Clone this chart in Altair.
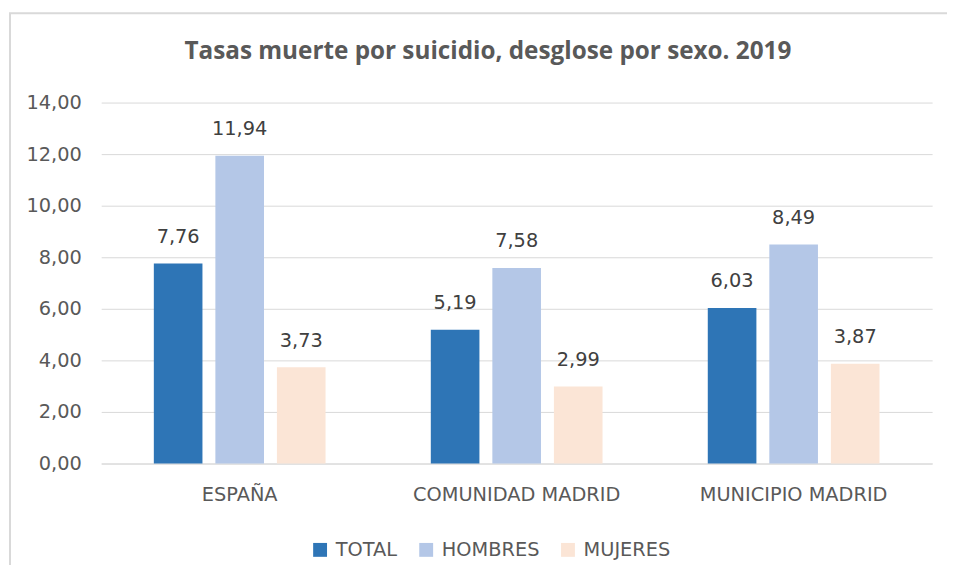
import altair as alt
import pandas as pd

regions = ["ESPAÑA", "COMUNIDAD MADRID", "MUNICIPIO MADRID"]
series = ["TOTAL", "HOMBRES", "MUJERES"]
total = [7.76, 5.19, 6.03]
hombres = [11.94, 7.58, 8.49]
mujeres = [3.73, 2.99, 3.87]
colors = ["#2E75B6", "#B4C7E7", "#FBE5D6"]

rows = []
for i, r in enumerate(regions):
    for s, vals in zip(series, [total, hombres, mujeres]):
        v = vals[i]
        rows.append({"region": r, "serie": s, "valor": v,
                     "etiqueta": f"{v:.2f}".replace(".", ",")})
df = pd.DataFrame(rows)

FONT = "DejaVu Sans"
TFONT = "Open Sans"
FS = 19.5
GRAY = "#595959"

x = alt.X("region:N", sort=regions, title=None,
          scale=alt.Scale(paddingInner=0.38, paddingOuter=0.19),
          axis=alt.Axis(labelAngle=0, labelFont=FONT, labelFontSize=FS,
                        labelColor=GRAY, labelPadding=22, ticks=False,
                        labelLimit=0,
                        domainColor="#D9D9D9", domainWidth=1))
xo = alt.XOffset("serie:N", sort=series,
                 scale=alt.Scale(paddingInner=0.21, paddingOuter=0))
y = alt.Y("valor:Q", title=None,
          scale=alt.Scale(domain=[0, 14]),
          axis=alt.Axis(values=[0, 2, 4, 6, 8, 10, 12, 14],
                        labelExpr="replace(format(datum.value, '.2f'), '.', ',')",
                        labelFont=FONT, labelFontSize=FS, labelColor=GRAY,
                        labelPadding=20, ticks=False, domain=False,
                        gridColor="#D9D9D9", gridWidth=1))

base = alt.Chart(df)

bars = base.mark_bar().encode(
    x=x, xOffset=xo, y=y,
    color=alt.Color("serie:N", sort=series,
                    scale=alt.Scale(domain=series, range=colors),
                    legend=alt.Legend(title=None, orient="none",
                                      direction="horizontal",
                                      legendX=211, legendY=441,
                                      symbolType="square", symbolSize=196,
                                      symbolStrokeWidth=0,
                                      labelFont=FONT, labelFontSize=FS,
                                      labelColor=GRAY, labelOffset=6,
                                      columnPadding=19)),
)

labels = base.mark_text(baseline="bottom", dy=-17, font=FONT, fontSize=FS,
                        color="#404040").encode(
    x=x, xOffset=xo, y=y, text="etiqueta:N"
)

border = alt.Chart(pd.DataFrame({"k": [0]})).mark_rect(
    fill=None, stroke="#D9D9D9", strokeWidth=2
).encode(x=alt.value(-92), x2=alt.value(880), y=alt.value(-90), y2=alt.value(500))

chart = alt.layer(border, bars, labels).properties(
    width=838, height=364,
    autosize=alt.AutoSizeParams(type="none"),
    padding={"left": 94, "top": 93, "right": 15, "bottom": 100},
    title=alt.TitleParams(
        "Tasas muerte por suicidio, desglose por sexo. 2019",
        font=TFONT, fontSize=24.5, fontWeight="bold", color=GRAY,
        anchor="middle", dx=-29, offset=-53),
).configure_view(stroke=None)

chart.save("out.html", embed_options={"renderer": "svg", "actions": False})
